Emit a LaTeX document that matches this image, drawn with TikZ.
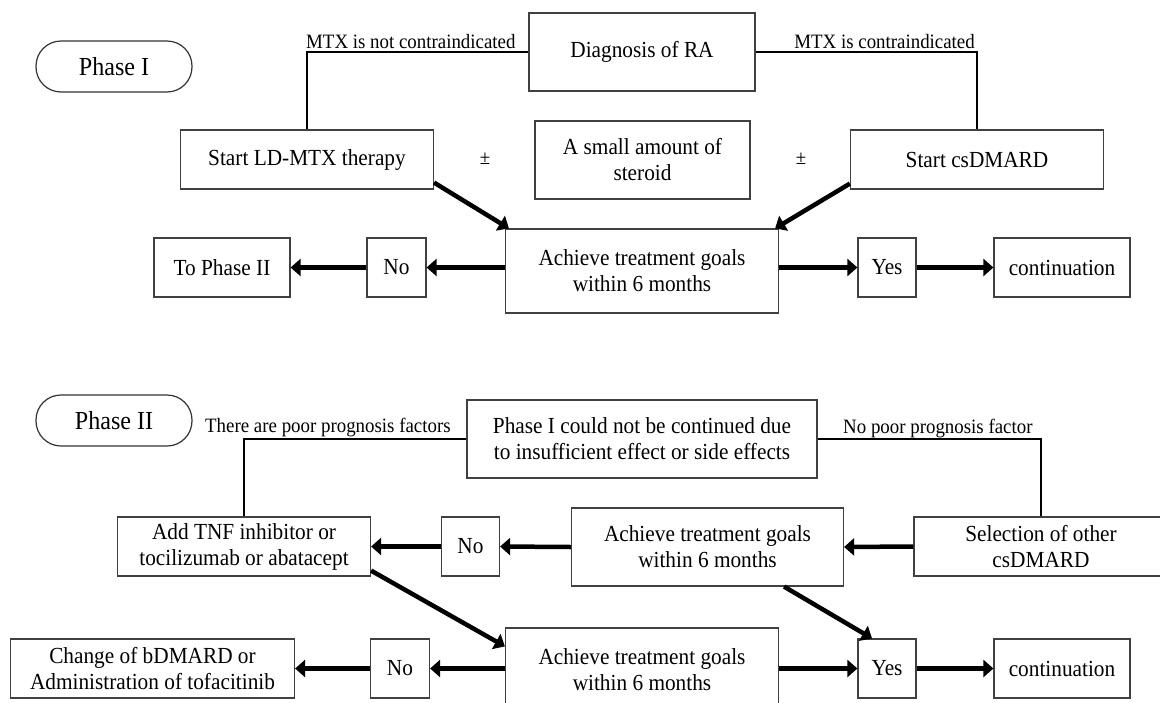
\documentclass[tikz,border=0pt]{standalone}
\usepackage{fontspec}
\setmainfont{Liberation Serif}[FakeStretch=0.926]
\usetikzlibrary{arrows.meta}
\usetikzlibrary{positioning}

\begin{document}
\begin{tikzpicture}[x=1pt,y=-1pt,
    box/.style={draw=black!75,line width=1.2pt,inner sep=0pt,align=center,font=\fontsize{23}{26}\selectfont},
    wh/.style 2 args={minimum width=#1pt,minimum height=#2pt},
    pill/.style={draw=black!80,line width=1.2pt,rounded corners=25pt,minimum width=156pt,minimum height=51pt,font=\fontsize{26}{30}\selectfont},
    link/.style={line width=2.7pt},
    flow/.style={line width=4.5pt,-{Triangle[length=10pt,width=17pt]}},
    tag/.style={inner sep=0pt,font=\fontsize{20.4}{23}\selectfont}]
    \useasboundingbox (0,0) rectangle (1160,702);
    \fill[white] (0,0) rectangle (1160,702);

    \node[pill] (ph1) at (114,66.5) {Phase I};
    \node[box,wh={226}{78}] (diag) at (642,52) {Diagnosis of RA};
    \node[box,wh={253}{59}] (ldmtx) at (307,159.5) {Start LD-MTX therapy};
    \node[box,wh={215}{78}] (ster) at (642.5,160) {A small amount of\\steroid};
    \node[box,wh={253}{59}] (csd) at (977,159.5) {Start csDMARD};
    \node[tag] (pm1) at (485,159) {±};
    \node[tag] (pm2) at (801,159) {±};
    \node[box,wh={273}{84}] (ach1) at (642,271) {Achieve treatment goals\\within 6 months};
    \node[box,wh={59}{59}] (no1) at (396.5,267.5) {No};
    \node[box,wh={136}{59}] (toII) at (222,267.5) {To Phase II};
    \node[box,wh={58}{59}] (yes1) at (887,267.5) {Yes};
    \node[box,wh={136}{59}] (cont1) at (1062,267.5) {continuation};
    \node[tag,anchor=base west] (notci) at (306,48) {MTX is not contraindicated};
    \node[tag,anchor=base east] (ci) at (975,48) {MTX is contraindicated};

    \draw[link] (diag.west) -| (ldmtx.north);
    \draw[link] (diag.east) -| (csd.north);
    \draw[flow] ([yshift=7pt]ldmtx.south east) -- ([xshift=4pt]ach1.north west);
    \draw[flow] ([yshift=6pt]csd.south west) -- ([xshift=-4pt]ach1.north east);
    \draw[flow] (ach1.west |- no1.east) -- (no1.east);
    \draw[flow] (no1.west) -- (toII.east);
    \draw[flow] (ach1.east |- yes1.west) -- (yes1.west);
    \draw[flow] (yes1.east) -- (cont1.west);

    \node[pill] (ph2) at (114,420.5) {Phase II};
    \node[box,wh={350}{78}] (p2) at (642,439) {Phase I could not be continued due\\to insufficient effect or side effects};
    \node[box,wh={253}{59}] (tnf) at (244,546.5) {Add TNF inhibitor or\\tocilizumab or abatacept};
    \node[box,wh={58}{59}] (no2) at (470.5,546.5) {No};
    \node[box,wh={272}{78}] (ach2) at (707.5,547) {Achieve treatment goals\\within 6 months};
    \node[box,wh={254}{59}] (sel) at (1041,546.5) {Selection of other\\csDMARD};
    \node[box,wh={273}{84}] (ach3) at (642,670) {Achieve treatment goals\\within 6 months};
    \node[box,wh={59}{59}] (no3) at (400,668.5) {No};
    \node[box,wh={284}{59}] (chg) at (152.5,668.5) {Change of bDMARD or\\Administration of tofacitinib};
    \node[box,wh={58}{59}] (yes3) at (887,668.5) {Yes};
    \node[box,wh={136}{59}] (cont3) at (1062,668.5) {continuation};
    \node[tag,anchor=base west] (poor) at (205,432) {There are poor prognosis factors};
    \node[tag,anchor=base west] (nopoor) at (843,433) {No poor prognosis factor};

    \draw[link] (p2.west) -| (tnf.north);
    \draw[link] (p2.east) -| (sel.north);
    \draw[flow] (sel.west) -- (ach2.east);
    \draw[flow] (ach2.west) -- (no2.east);
    \draw[flow] (no2.west) -- (tnf.east);
    \draw[flow] ([yshift=6pt]tnf.south east) -- ([yshift=-19pt]ach3.north west);
    \draw[flow] ([xshift=-60pt]ach2.south east) -- ([xshift=-15pt]yes3.north);
    \draw[flow] (ach3.west |- no3.east) -- (no3.east);
    \draw[flow] (no3.west) -- (chg.east);
    \draw[flow] (ach3.east |- yes3.west) -- (yes3.west);
    \draw[flow] (yes3.east) -- (cont3.west);
\end{tikzpicture}
\end{document}
